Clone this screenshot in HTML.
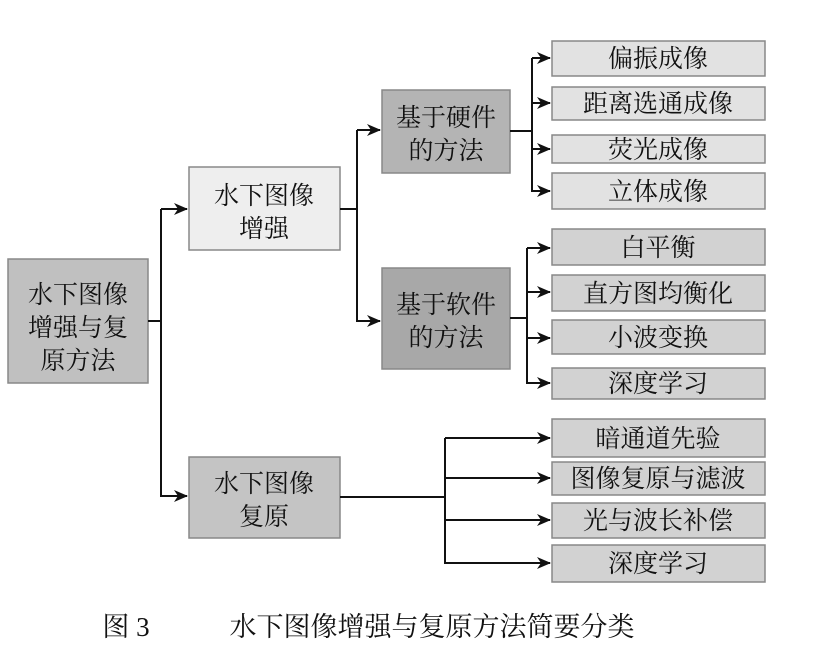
<!DOCTYPE html>
<html><head><meta charset="utf-8"><style>
body{margin:0;background:#fff;width:830px;height:659px;overflow:hidden}
text{font-family:"Liberation Serif","Noto Serif CJK SC",serif;font-size:25px;fill:#111;text-anchor:middle}
</style></head><body>
<svg width="830" height="659" viewBox="0 0 830 659">
<defs><marker id="a" markerWidth="14" markerHeight="12" refX="13" refY="6" orient="auto" markerUnits="userSpaceOnUse"><path d="M0,0 L14,6 L0,12 L4,6 Z" fill="#111"/></marker></defs>
<g stroke="#888" stroke-width="1.5">
<rect x="8" y="259" width="140" height="124" fill="#c0c0c0"/>
<rect x="189" y="167" width="151" height="83" fill="#eeeeee"/>
<rect x="189" y="457" width="151" height="81" fill="#c4c4c4"/>
<rect x="382" y="90" width="128" height="83" fill="#b4b4b4"/>
<rect x="382" y="268" width="128" height="101" fill="#a8a8a8"/>
<g fill="#e2e2e2">
<rect x="552" y="41" width="213" height="35"/><rect x="552" y="87" width="213" height="33"/>
<rect x="552" y="135" width="213" height="28"/><rect x="552" y="173" width="213" height="36"/>
</g>
<g fill="#d2d2d2">
<rect x="552" y="229" width="213" height="36"/><rect x="552" y="275" width="213" height="36"/>
<rect x="552" y="320" width="213" height="34"/><rect x="552" y="368" width="213" height="31"/>
<rect x="552" y="419" width="213" height="38"/><rect x="552" y="462" width="213" height="33"/>
<rect x="552" y="503" width="213" height="35"/><rect x="552" y="545" width="213" height="37"/>
</g></g>
<g stroke="#111" stroke-width="2" fill="none">
<path d="M148 321H161"/><path d="M161 209V496H187" marker-end="url(#a)"/><path d="M161 209H187" marker-end="url(#a)"/>
<path d="M340 209H357"/><path d="M357 130V321H380" marker-end="url(#a)"/><path d="M357 130H380" marker-end="url(#a)"/>
<path d="M510 131H532"/><path d="M532 58V191H550" marker-end="url(#a)"/>
<path d="M532 58H550" marker-end="url(#a)"/><path d="M532 103H550" marker-end="url(#a)"/><path d="M532 149H550" marker-end="url(#a)"/>
<path d="M510 318H527"/><path d="M527 248V383H550" marker-end="url(#a)"/>
<path d="M527 248H550" marker-end="url(#a)"/><path d="M527 292H550" marker-end="url(#a)"/><path d="M527 338H550" marker-end="url(#a)"/>
<path d="M340 497H445"/><path d="M445 438V563H550" marker-end="url(#a)"/>
<path d="M445 438H550" marker-end="url(#a)"/><path d="M445 478H550" marker-end="url(#a)"/><path d="M445 520H550" marker-end="url(#a)"/>
</g>
<text x="78" y="303">水下图像</text><text x="78" y="336">增强与复</text><text x="78" y="369">原方法</text>
<text x="264" y="204">水下图像</text><text x="264" y="237">增强</text>
<text x="264" y="492">水下图像</text><text x="264" y="525">复原</text>
<text x="446" y="126">基于硬件</text><text x="446" y="159">的方法</text>
<text x="446" y="313">基于软件</text><text x="446" y="346">的方法</text>
<text x="658" y="67">偏振成像</text><text x="658" y="112">距离选通成像</text>
<text x="658" y="158">荧光成像</text><text x="658" y="200">立体成像</text>
<text x="658" y="256">白平衡</text><text x="658" y="302">直方图均衡化</text>
<text x="658" y="346">小波变换</text><text x="658" y="392">深度学习</text>
<text x="658" y="447">暗通道先验</text><text x="658" y="487">图像复原与滤波</text>
<text x="658" y="529">光与波长补偿</text><text x="658" y="572">深度学习</text>
<text x="126" y="636" style="font-size:27px">图 3</text>
<text x="432" y="636" style="font-size:27px">水下图像增强与复原方法简要分类</text>
</svg>
</body></html>
